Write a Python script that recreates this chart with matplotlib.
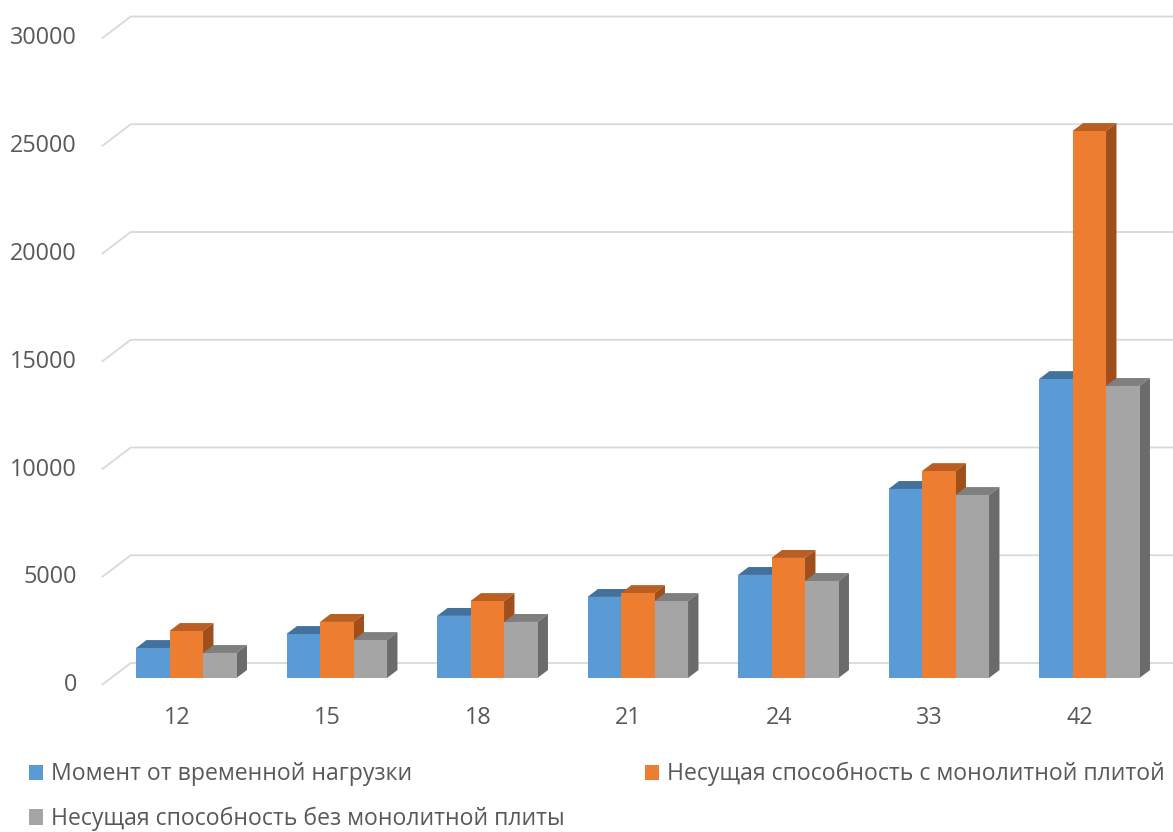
# 3D-style clustered columns: moment vs bearing capacity by span
import matplotlib
matplotlib.use("Agg")
import matplotlib.pyplot as plt

categories = ["12", "15", "18", "21", "24", "33", "42"]
moment = [1390, 2040, 2880, 3760, 4780, 8770, 13870]
cap_with_slab = [2180, 2600, 3570, 3940, 5570, 9600, 25380]
cap_without_slab = [1160, 1760, 2600, 3570, 4500, 8490, 13550]
series_names = [
    "Момент от временной нагрузки",
    "Несущая способность с монолитной плитой",
    "Несущая способность без монолитной плиты",
]
y_ticks = [0, 5000, 10000, 15000, 20000, 25000, 30000]

front_colors = ["#5B9BD5", "#ED7D31", "#A5A5A5"]
top_colors = ["#41719C", "#BA5E21", "#7F7F7F"]
side_colors = ["#3A6690", "#9E4F1B", "#6B6B6B"]
text_color = "#595959"
grid_color = "#D9D9D9"

plt.rcParams["font.family"] = ["Open Sans", "DejaVu Sans"]

W, H = 1173, 832
fig = plt.figure(figsize=(W / 100, H / 100), dpi=100)
ax = fig.add_axes([0, 0, 1, 1])
ax.set_axis_off()

# pixel scale of the oblique projection
px_x = 150.5           # px per category
px_y = 21.55 / 1000    # px per unit of value
x0_px, y0_px = 177, 685
ax.set_xlim(-x0_px / px_x, (W - x0_px) / px_x)
ax.set_ylim(-(H - y0_px) / px_y, y0_px / px_y)

# depth of the floor / back wall
dx = 29 / px_x
dy = 22 / px_y
f0, f1 = 0.32, 0.68    # bars sit in the middle of the depth

# back wall gridlines with slanted floor part on the left
x_left = -0.5
x_right = len(categories) - 0.5 + dx
for v in y_ticks:
    ax.plot([x_left, x_left + dx, x_right], [v, v + dy, v + dy],
            color=grid_color, lw=1.3, zorder=1, solid_capstyle="butt")
    ax.text((77 - x0_px) / px_x, v, str(v), ha="right", va="center",
            fontsize=16.8, color=text_color)

for i, c in enumerate(categories):
    ax.text(i, -(718 - y0_px) / px_y, c, ha="center", va="center",
            fontsize=16.8, color=text_color)

bw = 33.5 / px_x
ddx = (f1 - f0) * dx
ddy = (f1 - f0) * dy
base = f0 * dy
handles = []
for k, vals in enumerate([moment, cap_with_slab, cap_without_slab]):
    xs = [i - 1.5 * bw + k * bw + f0 * dx for i in range(len(categories))]
    bars = ax.bar(xs, vals, width=bw, bottom=base, align="edge",
                  color=front_colors[k], linewidth=0, zorder=3 + 2 * k,
                  label=series_names[k])
    handles.append(bars)
    for xl, v in zip(xs, vals):
        top = v + base
        ax.fill([xl, xl + bw, xl + bw + ddx, xl + ddx],
                [top, top, top + ddy, top + ddy],
                color=top_colors[k], lw=0, zorder=2 + 2 * k)
        ax.fill([xl + bw, xl + bw, xl + bw + ddx, xl + bw + ddx],
                [base, top, top + ddy, base + ddy],
                color=side_colors[k], lw=0, zorder=2 + 2 * k)

leg = fig.legend(handles=[handles[0], handles[2], handles[1]],
                 labels=[series_names[0], series_names[2], series_names[1]],
                 ncol=2, loc="upper left", bbox_to_anchor=(29 / W, 1 - 762 / H),
                 frameon=False, fontsize=16.6, borderpad=0, borderaxespad=0,
                 handlelength=0.62, handleheight=0.65, handletextpad=0.35,
                 labelspacing=0.88, columnspacing=3.45)
for t in leg.get_texts():
    t.set_color(text_color)

fig.savefig("out.png", dpi=100)
